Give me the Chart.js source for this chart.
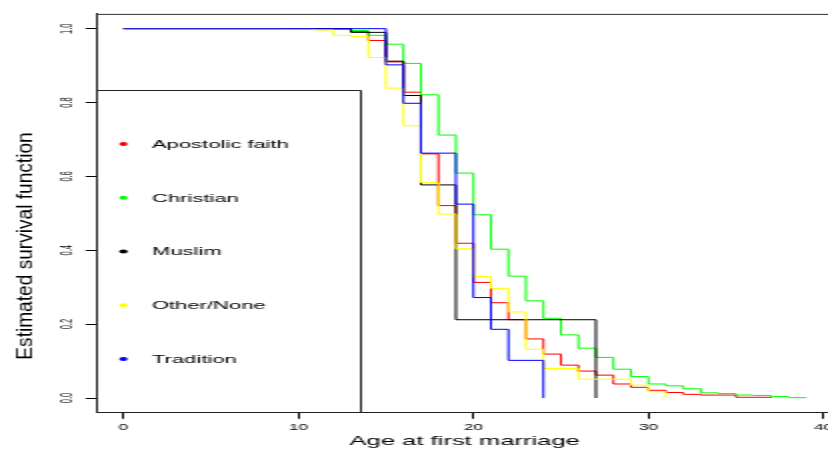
<!DOCTYPE html>
<html>
<head>
<meta charset="utf-8">
<script src="https://cdn.jsdelivr.net/npm/chart.js@4.4.1/dist/chart.umd.min.js"></script>
<style>
  html, body { margin: 0; padding: 0; background: #fff; overflow: hidden; }
  /* the plot is drawn at half width and stretched sideways */
  #survChart { transform: scaleX(2); transform-origin: 0 0; }
</style>
</head>
<body>
<canvas id="survChart" width="414" height="450"></canvas>
<script>
// Kaplan-Meier estimates by religion: age at first marriage
const groups = ['Apostolic faith', 'Christian', 'Muslim', 'Other/None', 'Tradition'];
const groupColors = ['#ff0000', '#00ff00', '#000000', '#ffff00', '#0000ff'];

const apostolicAge  = [0, 13, 14, 15, 16, 17, 18, 19, 20, 21, 22, 23, 24, 25, 26, 27, 28, 29, 30, 31, 32, 33, 35, 37];
const apostolicSurv = [1, 0.992, 0.968, 0.910, 0.828, 0.661, 0.521, 0.419, 0.313, 0.258, 0.212, 0.160, 0.119, 0.089, 0.073, 0.062, 0.038, 0.029, 0.021, 0.015, 0.010, 0.008, 0.002, 0];

const christianAge  = [0, 12, 13, 14, 15, 16, 17, 18, 19, 20, 21, 22, 23, 24, 25, 26, 27, 28, 29, 30, 31, 32, 33, 34, 35, 36, 37, 38, 39];
const christianSurv = [1, 0.998, 0.995, 0.982, 0.958, 0.906, 0.821, 0.712, 0.609, 0.496, 0.403, 0.330, 0.263, 0.216, 0.171, 0.135, 0.110, 0.078, 0.058, 0.038, 0.033, 0.025, 0.014, 0.012, 0.008, 0.007, 0.004, 0.001, 0];

const muslimAge  = [0, 13, 15, 16, 17, 19, 27];
const muslimSurv = [1, 0.990, 0.912, 0.819, 0.577, 0.212, 0];

const otherAge  = [0, 9, 11, 12, 13, 14, 15, 16, 17, 18, 19, 20, 21, 22, 23, 24, 26, 29, 30, 31];
const otherSurv = [1, 0.999, 0.996, 0.982, 0.979, 0.922, 0.839, 0.737, 0.583, 0.498, 0.404, 0.329, 0.297, 0.233, 0.132, 0.080, 0.051, 0.035, 0.017, 0];

const traditionAge  = [0, 15, 16, 17, 19, 20, 21, 22, 24];
const traditionSurv = [1, 0.902, 0.798, 0.663, 0.525, 0.272, 0.186, 0.102, 0];

const ageTicks = [0, 10, 20, 30, 40];
const survTicks = [0, 0.2, 0.4, 0.6, 0.8, 1.0];

const curveAges = [apostolicAge, christianAge, muslimAge, otherAge, traditionAge];
const curveSurv = [apostolicSurv, christianSurv, muslimSurv, otherSurv, traditionSurv];

function toPoints(ages, surv) {
  return ages.map((a, i) => ({ x: a, y: surv[i] }));
}

const datasets = groups.map((name, i) => ({
  label: name,
  data: toPoints(curveAges[i], curveSurv[i]),
  borderColor: groupColors[i],
  borderWidth: 1,
  pointRadius: 0,
  stepped: true,
  fill: false,
  order: groups.length - i   // Tradition ends up on top
}));

const FONT = '"Liberation Sans", Arial, sans-serif';

// labels, titles, legend box and the top frame line
const plotDecor = {
  id: 'plotDecor',
  afterDraw(chart) {
    const ctx = chart.ctx;
    const xs = chart.scales.x, ys = chart.scales.y;
    const area = chart.chartArea;
    ctx.save();

    // top border of the plot box
    ctx.strokeStyle = '#333';
    ctx.lineWidth = 1;
    ctx.beginPath();
    ctx.moveTo(area.left, area.top + 0.5);
    ctx.lineTo(area.right, area.top + 0.5);
    ctx.stroke();

    // x tick labels
    ctx.fillStyle = '#000';
    ctx.font = '8.6px ' + FONT;
    ctx.textAlign = 'center';
    ctx.textBaseline = 'alphabetic';
    ageTicks.forEach(v => ctx.fillText(String(v), xs.getPixelForValue(v), 430));

    // x title
    ctx.font = '12.8px ' + FONT;
    ctx.fillText('Age at first marriage', xs.getPixelForValue(19.5), 445);

    // y tick labels, rotated
    survTicks.forEach(v => {
      ctx.save();
      ctx.translate(36, ys.getPixelForValue(v));
      ctx.rotate(-Math.PI / 2);
      ctx.scale(0.78, 1);
      ctx.font = '9.6px ' + FONT;
      ctx.fillStyle = '#111';
      ctx.textAlign = 'center';
      ctx.fillText(v.toFixed(1), 0, 0);
      ctx.restore();
    });

    // y title
    ctx.save();
    ctx.translate(16.2, 246);
    ctx.rotate(-Math.PI / 2);
    ctx.scale(1.62, 1);
    ctx.font = '11.8px ' + FONT;
    ctx.fillStyle = '#000';
    ctx.textAlign = 'center';
    ctx.fillText('Estimated survival function', 0, 0);
    ctx.restore();

    // legend box, anchored in data coordinates
    const boxRight = Math.round(xs.getPixelForValue(13.57)) + 0.5;
    const boxTop = Math.round(ys.getPixelForValue(0.834)) + 0.5;
    ctx.strokeStyle = '#222';
    ctx.beginPath();
    ctx.moveTo(area.left, boxTop);
    ctx.lineTo(boxRight, boxTop);
    ctx.lineTo(boxRight, area.bottom);
    ctx.stroke();

    const dotX = xs.getPixelForValue(0);
    const textX = xs.getPixelForValue(1.63);
    ctx.font = '11px ' + FONT;
    ctx.textAlign = 'left';
    groups.forEach((name, i) => {
      const y = boxTop + 53.5 + i * 53.75;
      ctx.fillStyle = groupColors[i];
      ctx.beginPath();
      ctx.arc(dotX, y, 2.1, 0, Math.PI * 2);
      ctx.fill();
      ctx.fillStyle = '#000';
      ctx.fillText(name, textX, y + 3.9);
    });

    ctx.restore();
  }
};

new Chart(document.getElementById('survChart'), {
  type: 'line',
  data: { datasets: datasets },
  options: {
    responsive: false,
    devicePixelRatio: 1,
    animation: false,
    layout: { padding: { top: 13.9, left: 0, right: 0, bottom: 0 } },
    plugins: { legend: { display: false }, tooltip: { enabled: false } },
    scales: {
      x: {
        type: 'linear',
        min: -1.53,
        max: 40.26,
        ticks: { display: false, stepSize: 10, includeBounds: false },
        grid: { drawOnChartArea: false, drawTicks: true, tickLength: 6, color: '#000', lineWidth: 1 },
        border: { display: true, color: '#222', width: 1 },
        afterFit: s => { s.height = 37.2; }
      },
      y: {
        type: 'linear',
        min: -0.04,
        max: 1.04,
        ticks: { display: false, stepSize: 0.2, includeBounds: false },
        grid: { drawOnChartArea: false, drawTicks: true, tickLength: 5.5, color: '#000', lineWidth: 1 },
        border: { display: true, color: '#222', width: 1 },
        afterFit: s => { s.width = 48.35; }
      }
    }
  },
  plugins: [plotDecor]
});
</script>
</body>
</html>
